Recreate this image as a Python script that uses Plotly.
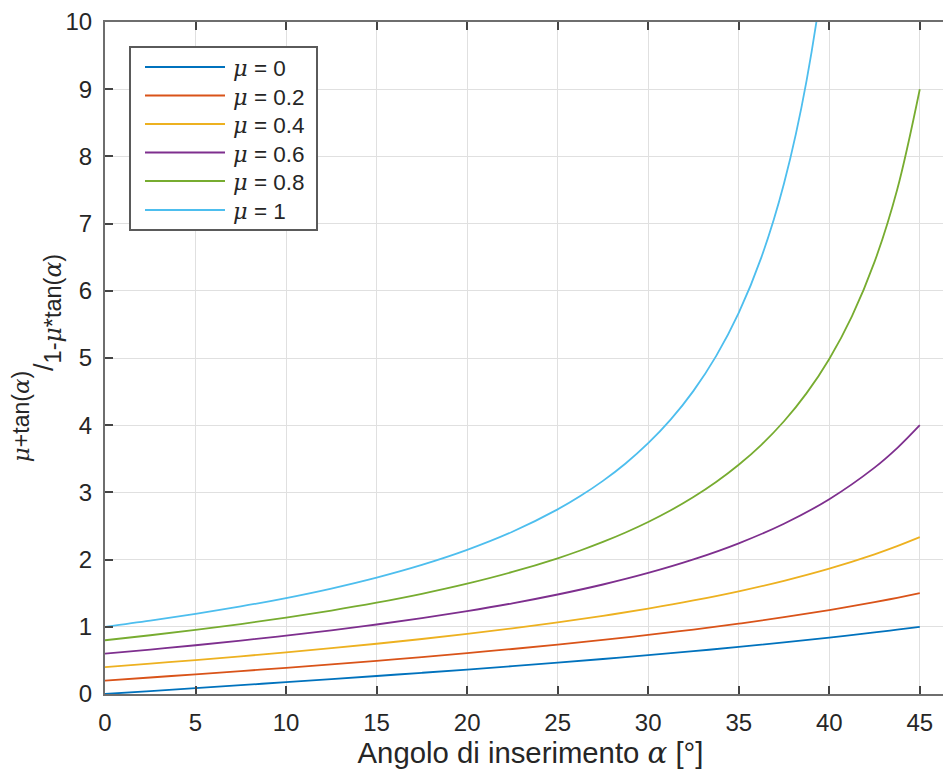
import plotly.graph_objects as go

# angle of insertion (degrees)
alpha = [0, 2.5, 5, 7.5, 10, 12.5, 15, 17.5, 20, 22.5, 25, 27.5, 30, 32.5, 35, 37.5, 40, 42.5, 43.75, 45]
alpha_mu08 = [0, 2.5, 5, 7.5, 10, 12.5, 15, 17.5, 20, 22.5, 25, 26.25, 27.5, 28.75, 30, 31.25, 32.5,
              33.75, 35, 36.25, 37.5, 38.75, 40, 41.25, 42.5, 43.75, 45]
alpha_mu1 = [0, 2.5, 5, 7.5, 10, 12.5, 15, 17.5, 20, 22.5, 25, 26.25, 27.5, 28.75, 30, 31.25, 32.5,
             33.75, 35, 36.25, 37.5, 38.75, 40, 41.25]

y_mu0 = [0.0, 0.0437, 0.0875, 0.1317, 0.1763, 0.2217, 0.2680, 0.3153, 0.3640, 0.4142, 0.4663, 0.5206,
         0.5774, 0.6371, 0.7002, 0.7673, 0.8391, 0.9163, 0.9573, 1.0]
y_mu02 = [0.2, 0.2458, 0.2926, 0.3406, 0.3901, 0.4413, 0.4944, 0.5500, 0.6083, 0.6697, 0.7348, 0.8043,
          0.8788, 0.9593, 1.0468, 1.1427, 1.2486, 1.3668, 1.4313, 1.5]
y_mu04 = [0.4, 0.4515, 0.5052, 0.5612, 0.6201, 0.6822, 0.7481, 0.8185, 0.8941, 0.9759, 1.0649, 1.1627,
          1.2708, 1.3917, 1.5283, 1.6843, 1.8651, 2.0780, 2.1995, 2.3333]
y_mu06 = [0.6, 0.6610, 0.7256, 0.7944, 0.8682, 0.9478, 1.0342, 1.1289, 1.2333, 1.3496, 1.4806, 1.6295,
          1.8014, 2.0025, 2.2422, 2.5340, 2.8983, 3.3681, 3.6588, 4.0]
y_mu08 = [0.8, 0.8742, 0.9543, 1.0413, 1.1367, 1.2420, 1.3593, 1.4915, 1.6421, 1.8160, 2.0198, 2.1357,
          2.2630, 2.4035, 2.5596, 2.7341, 2.9308, 3.1543, 3.4109, 3.7087, 4.0590, 4.4774, 4.9863,
          5.6200, 6.4296, 7.5040, 9.0]
y_mu1 = [1.0, 1.0913, 1.1918, 1.3032, 1.4281, 1.5697, 1.7321, 1.9210, 2.1445, 2.4142, 2.7475, 2.9459,
         3.1716, 3.4308, 3.7321, 4.0866, 4.5107, 5.0274, 5.6713, 6.4971, 7.5958, 9.131, 11.430, 15.26]

labels = ["0", "0.2", "0.4", "0.6", "0.8", "1"]
series_x = [alpha, alpha, alpha, alpha, alpha_mu08, alpha_mu1]
series_y = [y_mu0, y_mu02, y_mu04, y_mu06, y_mu08, y_mu1]
colors = ["#0072BD", "#D95319", "#EDB120", "#7E2F8E", "#77AC30", "#4DBEEE"]

x_ticks = [0, 5, 10, 15, 20, 25, 30, 35, 40, 45]
y_ticks = [0, 1, 2, 3, 4, 5, 6, 7, 8, 9, 10]

FONT = "Liberation Sans, Arial, sans-serif"
TXT = "#262626"
SERIF = "<span style='font-family:DejaVu Serif, serif'>"

OFF = 8  # page body margin
W, H = 948, 766
ML, MR, MT, MB = 97, 0, 14, 80
PW, PH = W - ML - MR, H - MT - MB


def px(xs):
    return (xs - OFF - ML) / PW


def py(ys):
    return (H - MB - (ys - OFF)) / PH


fig = go.Figure()
for xs, ys, lab, col in zip(series_x, series_y, labels, colors):
    fig.add_trace(go.Scatter(
        x=xs, y=ys, mode="lines", showlegend=False,
        line=dict(color=col, width=1.8, shape="spline", smoothing=1.0),
        name=f"μ = {lab}"))

# legend box drawn by hand (MATLAB-style long line samples)
fig.add_shape(type="rect", xref="paper", yref="paper",
              x0=px(130), x1=px(317), y0=py(230), y1=py(47),
              line=dict(color="#5a5a5a", width=2), fillcolor="white", layer="above")
row_y = [67, 95.5, 124, 152.5, 181, 210]
for ry, lab, col in zip(row_y, labels, colors):
    fig.add_shape(type="line", xref="paper", yref="paper",
                  x0=px(145), x1=px(225), y0=py(ry), y1=py(ry),
                  line=dict(color=col, width=2), layer="above")
    fig.add_annotation(xref="paper", yref="paper", x=px(231), y=py(ry + 1),
                       xanchor="left", yanchor="middle", showarrow=False,
                       text=f"{SERIF}<i>μ</i></span> = {lab}",
                       font=dict(family=FONT, size=22.5, color=TXT))

axis_common = dict(
    showline=True, linecolor="#6e6e6e", linewidth=2, mirror="ticks",
    ticks="inside", ticklen=8, tickwidth=1.5, tickcolor="#444444",
    showgrid=True, gridcolor="#e0e0e0", gridwidth=1, automargin=False,
    zeroline=False, tickfont=dict(family=FONT, size=24, color=TXT),
)

sup = ("<sup><span style='font-size:23px;baseline-shift:7px'>" + SERIF + "<i>μ</i></span>+tan(" + SERIF +
       "<i>α</i></span>)</span></sup>")
slash = "<span style='font-size:27px'>/</span>"
sub = ("<sub><span style='font-size:23.5px'>1-" + SERIF + "<i>μ</i></span>*tan(" + SERIF +
       "<i>α</i></span>)</span></sub>")

fig.update_layout(
    width=W, height=H,
    margin=dict(l=ML, r=MR, t=MT, b=MB, autoexpand=False),
    paper_bgcolor="white", plot_bgcolor="white",
    font=dict(family=FONT, color=TXT),
    showlegend=False,
    xaxis=dict(
        range=[0, 47], tickvals=x_ticks, ticklabelstandoff=6,
        title=dict(text=f"Angolo di inserimento {SERIF}<i>α</i></span> [°]",
                   font=dict(family=FONT, size=29.3, color=TXT), standoff=3),
        **axis_common,
    ),
    yaxis=dict(
        range=[0, 10], tickvals=y_ticks, ticklabelstandoff=6,
        title=dict(text=sup + slash + sub,
                   font=dict(family=FONT, size=40, color=TXT), standoff=0),
        **axis_common,
    ),
)

fig.write_html("out.html")
